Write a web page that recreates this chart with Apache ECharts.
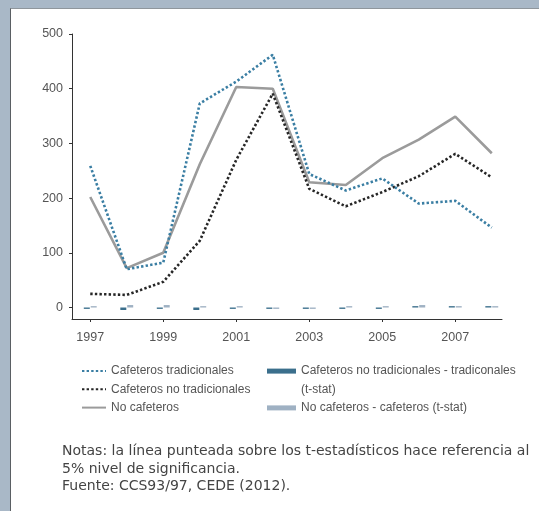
<!DOCTYPE html>
<html>
<head>
<meta charset="utf-8">
<script src="https://cdn.jsdelivr.net/npm/echarts@6/dist/echarts.min.js"></script>
<style>
  html, body { margin: 0; padding: 0; background: #a9b8c7; }
  #panel { position: absolute; left: 10px; top: 8px; width: 528px; height: 502px; background: #ffffff; border-top: 1px solid #8f969c; border-left: 1px solid #5a5f63; }
  #chart { position: absolute; left: 0; top: 0; width: 539px; height: 511px; }
</style>
</head>
<body>
<div id="panel"></div>
<div id="chart"></div>
<script>
const years = [1997, 1998, 1999, 2000, 2001, 2002, 2003, 2004, 2005, 2006, 2007, 2008];
const cafTradicionales = [259, 70, 82, 373, 413, 462, 244, 214, 236, 190, 195, 146];
const cafNoTradicionales = [25, 23, 47, 122, 270, 391, 217, 185, 211, 240, 281, 238];
const noCafeteros = [202, 72, 100, 262, 403, 400, 229, 224, 273, 307, 349, 282];
const tNoTradVsTrad = [-2.5, -4.5, -2.5, -4.5, -2.5, -2.5, -2.5, -2.5, -2.5, 2.5, 2.5, 2.5];
const tNoCafVsCaf = [2.5, 4.5, 4.5, 2.5, 2.5, -2.5, -2.5, 2.5, 2.5, 4.5, 2.5, 2.5];
const xTicks = [1997, 1999, 2001, 2003, 2005, 2007];
const yTicks = [0, 100, 200, 300, 400, 500];

const names = {
  a: 'Cafeteros tradicionales',
  b: 'Cafeteros no tradicionales',
  c: 'No cafeteros',
  d: 'Cafeteros no tradicionales - tradiconales (t-stat)',
  e: 'No cafeteros - cafeteros (t-stat)'
};
const pair = (arr) => years.map((y, i) => [y, arr[i]]);
const FONT = 'Liberation Sans';
const TXT = '#555555';

const chart = echarts.init(document.getElementById('chart'), null, { renderer: 'canvas' });
chart.setOption({
  backgroundColor: 'transparent',
  animation: false,
  textStyle: { fontFamily: FONT },
  grid: { left: 72, right: 37, top: 34, bottom: 192 },
  xAxis: {
    type: 'value', min: 1996.5, max: 2008.28,
    splitLine: { show: false },
    axisLine: { show: true, onZero: false, lineStyle: { color: '#333333', width: 1 } },
    axisTick: { show: true, length: 3, lineStyle: { color: '#333333' }, customValues: xTicks },
    axisLabel: { color: TXT, fontSize: 12.5, margin: 12, customValues: xTicks, formatter: (v) => String(v) }
  },
  yAxis: {
    type: 'value', min: -21, max: 500,
    splitLine: { show: false },
    axisLine: { show: true, onZero: false, lineStyle: { color: '#333333', width: 1 } },
    axisTick: { show: true, length: 3, lineStyle: { color: '#333333' }, customValues: yTicks },
    axisLabel: { color: TXT, fontSize: 12.5, margin: 9, customValues: yTicks }
  },
  legend: [
    {
      orient: 'vertical', left: 76, top: 359, itemWidth: 24, itemHeight: 12, itemGap: 4.3,
      itemStyle: { opacity: 0 },
      textStyle: { color: TXT, fontSize: 12, lineHeight: 14, fontFamily: FONT },
      data: [names.a, names.b, names.c]
    },
    {
      orient: 'vertical', left: 262, top: 338.5, itemWidth: 29, itemHeight: 5, itemGap: 0,
      icon: 'rect',
      textStyle: { color: TXT, fontSize: 12, lineHeight: 18.4, fontFamily: FONT },
      formatter: (n) => n === names.d ? ' \nCafeteros no tradicionales - tradiconales\n(t-stat)' : n,
      data: [names.d, names.e]
    }
  ],
  graphic: [
    {
      type: 'text', left: 62, top: 443,
      style: {
        text: 'Notas: la línea punteada sobre los t-estadísticos hace referencia al\n5% nivel de significancia.\nFuente: CCS93/97, CEDE (2012).',
        font: '14px "DejaVu Sans"', fill: '#444444', lineHeight: 17.5
      }
    }
  ],
  series: [
    {
      name: names.d, type: 'bar', data: pair(tNoTradVsTrad), barWidth: 6, barGap: '15%',
      itemStyle: { color: '#3b6f8c' }
    },
    {
      name: names.e, type: 'bar', data: pair(tNoCafVsCaf), barWidth: 6,
      itemStyle: { color: '#9fb1c3' }
    },
    {
      name: names.c, type: 'line', data: pair(noCafeteros), symbol: 'none',
      lineStyle: { color: '#9b9b9b', width: 2.6 }, itemStyle: { color: '#9b9b9b' }
    },
    {
      name: names.b, type: 'line', data: pair(cafNoTradicionales), symbol: 'none',
      lineStyle: { color: '#262626', width: 2.6, type: [2.4, 2.2] }, itemStyle: { color: '#262626' }
    },
    {
      name: names.a, type: 'line', data: pair(cafTradicionales), symbol: 'none',
      lineStyle: { color: '#3a7ea3', width: 2.6, type: [2.4, 2.2] }, itemStyle: { color: '#3a7ea3' }
    }
  ]
});
</script>
</body>
</html>
